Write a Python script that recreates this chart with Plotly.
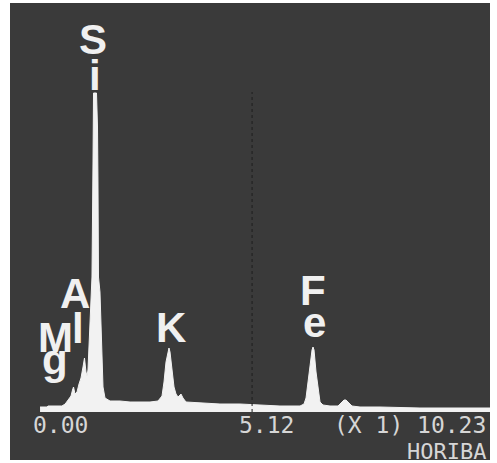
import plotly.graph_objects as go

# ---- spectrum data (energy in keV, counts in arbitrary units) ----
energy_kev = [0.56, 0.71, 0.73, 1.03, 1.10, 1.16, 1.226, 1.258, 1.280, 1.312, 1.355, 1.398,
              1.441, 1.484, 1.516, 1.548, 1.570, 1.591, 1.613, 1.634, 1.656, 1.677, 1.699,
              1.710, 1.774, 1.796, 1.806, 1.817, 1.849, 1.871, 1.892, 1.914, 1.957, 2.065,
              2.280, 2.495, 2.925, 3.097, 3.183, 3.226, 3.269, 3.312, 3.333, 3.355, 3.398,
              3.441, 3.484, 3.527, 3.591, 3.634, 3.699, 4.000, 4.430, 4.860, 5.290, 5.720,
              6.151, 6.237, 6.280, 6.323, 6.366, 6.409, 6.430, 6.452, 6.495, 6.538, 6.581,
              6.645, 6.796, 6.968, 7.032, 7.097, 7.140, 7.204, 7.269, 7.441, 7.871, 8.731,
              9.591, 10.237]
counts = [5, 5, 6, 6, 8, 12, 16, 22, 25, 18, 20, 28,
          34, 45, 54, 40, 36, 42, 70, 100, 125, 135, 250,
          319, 319, 285, 230, 135, 120, 80, 50, 25, 14, 11,
          11, 10, 10, 11, 16, 30, 50, 62, 64, 60, 42,
          25, 18, 15, 18, 14, 10, 9, 8, 8, 7, 6,
          6, 8, 14, 30, 50, 62, 65, 62, 40, 22, 10,
          7, 6, 6, 9, 12, 12, 9, 6, 5, 5, 4,
          4, 4]

# ---- element labels (stacked letters) ----
label_letters = ["S", "i", "A", "l", "M", "g", "K", "F", "e"]
label_x_kev = [1.709, 1.742, 1.301, 1.376, 0.892, 0.882, 3.366, 6.430, 6.452]
label_y = [373, 337, 119, 84, 75, 53, 84.5, 122, 89.5]

# ---- instrument readout text ----
scale_labels = ["0.00", "5.12", "(X 1) 10.23"]
brand_label = "HORIBA"
marker_kev = 5.12

W, H = 497, 463
ML, MR, MT, MB = 14, 7, 3, 51
PW, PH = W - ML - MR, H - MT - MB
X_MAX = PW / 46.5
BG = "#3a3a3a"


def px_to_paper_x(px):
    return (px - ML) / PW


def px_to_paper_y(py):
    return (H - MB - py) / PH


fig = go.Figure()
fig.add_trace(go.Scatter(
    x=energy_kev, y=counts, mode="lines", fill="tozeroy",
    line=dict(color="#f2f2f2", width=1), fillcolor="#f2f2f2",
    hoverinfo="x+y",
))

shapes = [
    dict(type="rect", xref="paper", yref="paper", layer="below",
         x0=px_to_paper_x(10), x1=px_to_paper_x(490),
         y0=px_to_paper_y(460), y1=px_to_paper_y(3),
         fillcolor=BG, line=dict(width=0)),
    dict(type="line", xref="x", yref="y", x0=marker_kev, x1=marker_kev,
         y0=0, y1=320, line=dict(color="#1e1e1e", width=1, dash="dot")),
]

annotations = []
for t, xk, yv in zip(label_letters, label_x_kev, label_y):
    annotations.append(dict(
        text=t, x=xk, y=yv, xref="x", yref="y", showarrow=False,
        xanchor="center", yanchor="middle",
        font=dict(family="Liberation Sans, Arial, sans-serif", size=42,
                  color="#f0f0f0", weight="bold"),
    ))

mono = dict(family="DejaVu Sans Mono, monospace", size=23, color="#d6d6d6")
annotations.append(dict(text=scale_labels[0], x=px_to_paper_x(31), y=px_to_paper_y(425),
                        xref="paper", yref="paper", showarrow=False,
                        xanchor="left", yanchor="middle", font=mono))
annotations.append(dict(text=scale_labels[1], x=px_to_paper_x(237), y=px_to_paper_y(425),
                        xref="paper", yref="paper", showarrow=False,
                        xanchor="left", yanchor="middle", font=mono))
annotations.append(dict(text=scale_labels[2], x=px_to_paper_x(488), y=px_to_paper_y(425),
                        xref="paper", yref="paper", showarrow=False,
                        xanchor="right", yanchor="middle", font=mono))
annotations.append(dict(text=brand_label, x=px_to_paper_x(488), y=px_to_paper_y(451),
                        xref="paper", yref="paper", showarrow=False,
                        xanchor="right", yanchor="middle",
                        font=dict(family="DejaVu Sans Mono, monospace", size=22,
                                  color="#d6d6d6")))

fig.update_layout(
    width=W, height=H,
    margin=dict(l=ML, r=MR, t=MT, b=MB, pad=0),
    paper_bgcolor="white", plot_bgcolor=BG,
    showlegend=False,
    xaxis=dict(range=[0, X_MAX], visible=False, fixedrange=True),
    yaxis=dict(range=[0, PH], visible=False, fixedrange=True),
    shapes=shapes, annotations=annotations,
)

fig.write_html(
    "out.html",
    config={"displayModeBar": False},
    post_script="document.body.style.margin='0';document.body.style.overflow='hidden';",
)
